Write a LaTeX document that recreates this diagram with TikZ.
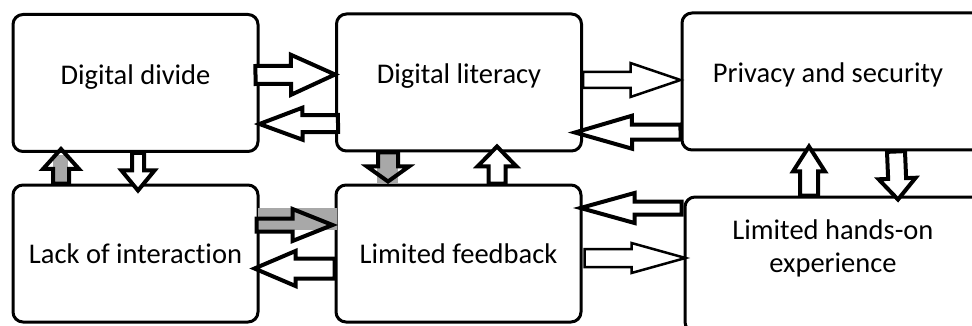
\documentclass[tikz,border=0pt]{standalone}
\usepackage{fontspec}
\setmainfont{Carlito}[Ligatures={NoCommon}]
\usetikzlibrary{calc}

\definecolor{band}{HTML}{A8A8A8}

% block arrow: [options]{from}{to}{shaft half}{head half}{head length}
\newcommand{\fatarrow}[6][]{%
  \coordinate (fa-s) at #2;
  \coordinate (fa-t) at #3;
  \coordinate (fa-h) at ($(fa-t)!#6!(fa-s)$);
  \draw[fat,#1] ($(fa-s)!#4!90:(fa-t)$) -- ($(fa-h)!#4!90:(fa-t)$)
    -- ($(fa-h)!#5!90:(fa-t)$) -- (fa-t) -- ($(fa-h)!#5!-90:(fa-t)$)
    -- ($(fa-h)!#4!-90:(fa-t)$) -- ($(fa-s)!#4!-90:(fa-t)$) -- cycle;
}

\begin{document}
\begin{tikzpicture}[
    x=1pt, y=-1pt,
    box/.style = {draw, line width=3pt, rounded corners=10pt, minimum width=245pt,
                  minimum height=137pt, align=center, font=\fontsize{28.5}{33}\selectfont},
    top/.style = {text depth=17pt},
    fat/.style = {draw, fill=white, line width=4pt, line join=miter},
    thin/.style = {line width=2.5pt},
    hollow/.style = {fill=none}
  ]
  \useasboundingbox (0,0) rectangle (972,326);

  % Nodes
  \node[box, top] (divide) at (135.5,83) {Digital divide};
  \node[box, top] (literacy) at (459,82.5) {Digital literacy};
  \node[box, top, minimum width=318pt] (privacy) at (841,81.5)
    {Privacy and security\hspace*{26pt}};
  \node[box] (interaction) at (135.5,253.5) {Lack of interaction};
  \node[box] (feedback) at (458.5,253.5) {Limited feedback};
  \node[box, minimum width=315pt, minimum height=135pt, text depth=37pt] (handson)
    at (842.5,264.5) {Limited hands-on\hspace*{19pt}\\experience\hspace*{19pt}};

  % grey bands
  \fill[band] (53,155) rectangle (68,183);
  \fill[band] (377,152) rectangle (398,183);
  \fill[band] (258,208) rectangle (337,230);

  % top row
  \fatarrow{([xshift=-4pt,yshift=8pt]divide.east)}{([yshift=8pt]literacy.west)}{9pt}{20pt}{44pt}
  \fatarrow{([xshift=3pt,yshift=-41pt]literacy.west)}{([yshift=-41pt]divide.east)}{8.5pt}{16pt}{43pt}
  \fatarrow[thin]{([yshift=2.5pt]literacy.east)}{([yshift=1.5pt]privacy.west)}{8pt}{17pt}{50pt}
  \fatarrow{([yshift=-50.5pt]privacy.west)}{([xshift=-8pt,yshift=-50pt]literacy.east)}{7.5pt}{16.5pt}{57pt}

  % vertical
  \fatarrow[hollow]{([xshift=-74.5pt]interaction.north)}{([xshift=-74.5pt,yshift=4pt]divide.south)}{8pt}{18pt}{20pt}
  \fatarrow{([xshift=2.5pt]divide.south)}{([xshift=2.5pt,yshift=-7pt]interaction.north)}{6pt}{16.5pt}{20pt}
  \fatarrow[hollow]{([xshift=-71pt]literacy.south)}{([xshift=-70.5pt,yshift=2pt]feedback.north)}{10pt}{21pt}{15pt}
  \fatarrow{([xshift=38.5pt]feedback.north)}{([xshift=38pt,yshift=6pt]literacy.south)}{8.5pt}{19.5pt}{20pt}
  \fatarrow{([xshift=-33.5pt]handson.north)}{([xshift=-32pt,yshift=5pt]privacy.south)}{9pt}{16pt}{25pt}
  \fatarrow{([xshift=55pt]privacy.south)}{([xshift=55.5pt,yshift=-4pt]handson.north)}{9pt}{18.5pt}{21pt}

  % bottom row
  \fatarrow[hollow]{([xshift=-3pt,yshift=28.5pt]interaction.east)}{([xshift=-2pt,yshift=28.5pt]feedback.west)}{6.5pt}{16pt}{40pt}
  \fatarrow{([yshift=-15pt]feedback.west)}{([xshift=-5pt,yshift=-15pt]interaction.east)}{10pt}{17.5pt}{41pt}
  \fatarrow{([xshift=-2pt,yshift=56.5pt]handson.west)}{([xshift=-2pt,yshift=45.5pt]feedback.east)}{6.5pt}{15pt}{54pt}
  \fatarrow[thin]{([xshift=2pt,yshift=-4.5pt]feedback.east)}{([xshift=2pt,yshift=6.5pt]handson.west)}{9pt}{15pt}{54pt}
\end{tikzpicture}
\end{document}
